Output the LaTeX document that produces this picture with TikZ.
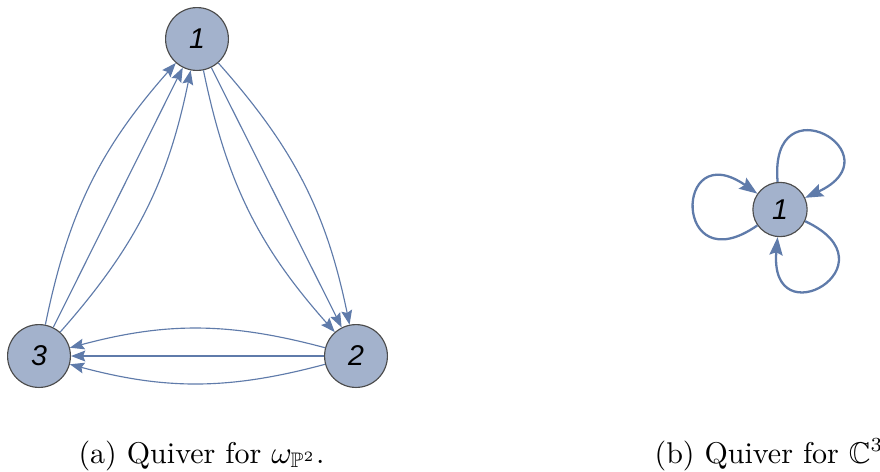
\documentclass[tikz,border=0pt]{standalone}
\usepackage{amssymb}
\usepackage{fontspec}
\newfontfamily\nodefont{Liberation Sans}
\usetikzlibrary{arrows.meta}
\definecolor{vfill}{HTML}{A3B2CC}
\definecolor{edgecol}{HTML}{5F7BAA}

\begin{document}
\begin{tikzpicture}[x=0.35pt,y=-0.35pt,
    vertex/.style={circle,draw=black!70,fill=vfill,inner sep=0pt,
      minimum size=22pt,font=\nodefont\itshape},
    arr/.style={draw=edgecol,line width=0.4pt,
      -{Stealth[length=5pt,width=3.8pt,inset=0.8pt]}},
    looparr/.style={draw=edgecol,line width=0.8pt,
      -{Stealth[length=6.3pt,width=4.6pt,inset=1pt]}},
    caption/.style={anchor=base west,inner sep=0pt,
      font=\fontsize{10.5}{13}\selectfont}]
  \useasboundingbox (0,0) rectangle (880,471);
  % (a) quiver for the local P2
  \node[vertex] (n1) at (197,39) {1};
  \node[vertex] (n2) at (356,356) {2};
  \node[vertex] (n3) at (39,356) {3};
  \foreach \from/\to in {n1/n2,n2/n3,n3/n1} {
    \draw[arr] (\from) to[bend left=15] (\to);
    \draw[arr] (\from) -- (\to);
    \draw[arr] (\from) to[bend right=15] (\to);
  }
  % (b) quiver for C3
  \node[vertex,minimum size=19pt] (b1) at (780,209.5) {1};
  \foreach \a in {0,120,240}
    \draw[looparr] (b1) to[out=95+\a,in=25+\a,distance=36pt] (b1);
  \node[caption] (capa) at (78,463) {(a) Quiver for $\omega_{\mathbb{P}^2}$.};
  \node[caption] (capb) at (654,463) {(b) Quiver for $\mathbb{C}^3$};
\end{tikzpicture}
\end{document}
